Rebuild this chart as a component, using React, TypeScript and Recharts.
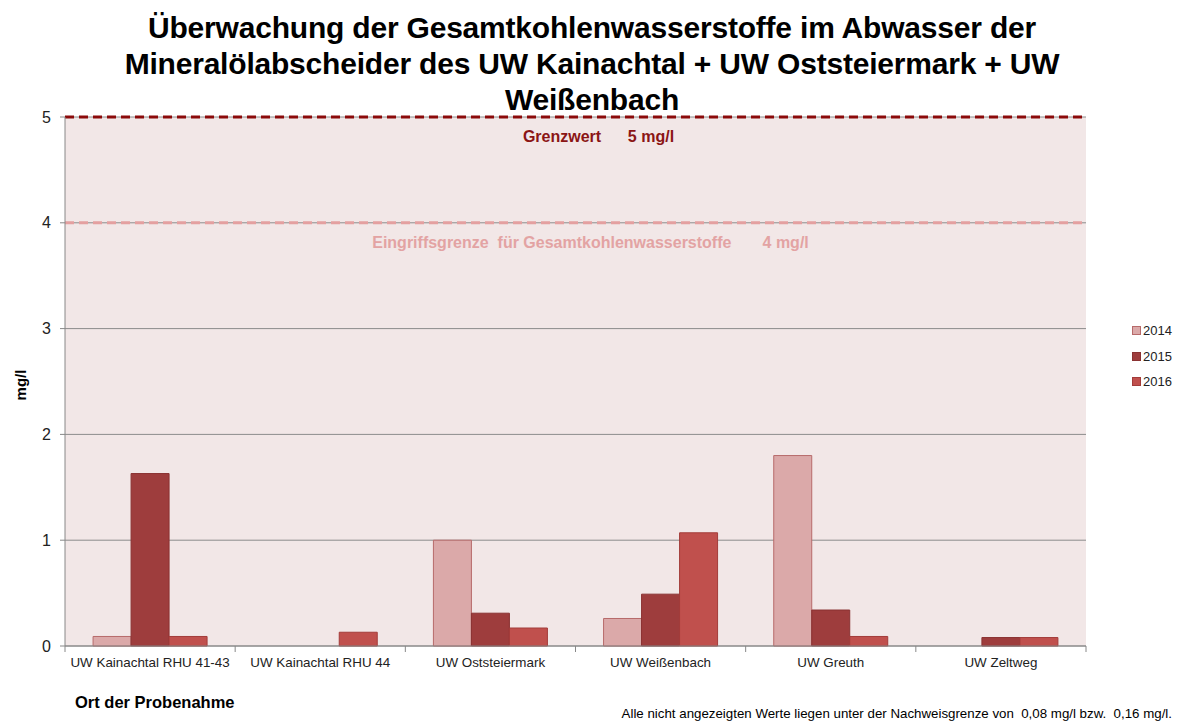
import React from "react";
import { BarChart, Bar, XAxis, YAxis, CartesianGrid, ReferenceLine } from "recharts";

const sites = [
  "UW Kainachtal RHU 41-43",
  "UW Kainachtal RHU 44",
  "UW Oststeiermark",
  "UW Weißenbach",
  "UW Greuth",
  "UW Zeltweg",
];
const values2014 = [0.09, null, 1.0, 0.26, 1.8, null];
const values2015 = [1.63, null, 0.31, 0.49, 0.34, 0.08];
const values2016 = [0.09, 0.13, 0.17, 1.07, 0.09, 0.08];
const yTicks = [0, 1, 2, 3, 4, 5];
const grenzwert = 5;
const eingriffsgrenze = 4;

const series = [
  { key: "y2014", name: "2014", fill: "#DBA9A9", stroke: "#B76A6A" },
  { key: "y2015", name: "2015", fill: "#9E3D3D", stroke: "#8A3232" },
  { key: "y2016", name: "2016", fill: "#C0504D", stroke: "#A33C3A" },
];

const data = sites.map((site, i) => ({
  site,
  y2014: values2014[i],
  y2015: values2015[i],
  y2016: values2016[i],
}));

const font = "'Liberation Sans', Arial, sans-serif";

const SiteTick = (props: any) => {
  const { x, y, payload, index, visibleTicksCount } = props;
  const half = payload && payload.offset ? payload.offset : 85;
  return (
    <g>
      <line x1={x - half} y1={y - 8} x2={x - half} y2={y - 2} stroke="#888" />
      {index === visibleTicksCount - 1 && (
        <line x1={x + half} y1={y - 8} x2={x + half} y2={y - 2} stroke="#888" />
      )}
      <text x={x} y={y + 13} textAnchor="middle" fontSize={13.4} fill="#222" fontFamily={font}>
        {payload.value}
      </text>
    </g>
  );
};

const lineLabel = (text: string, color: string, dx: number) => (props: any) => {
  const vb = props.viewBox || { x: 0, y: 0, width: 0 };
  return (
    <text
      x={vb.x + vb.width / 2 + dx}
      y={vb.y + 25}
      textAnchor="middle"
      fontSize={16}
      fontWeight="bold"
      fill={color}
      fontFamily={font}
      style={{ whiteSpace: "pre" }}
    >
      {text}
    </text>
  );
};

export default function App() {
  return (
    <div style={{ position: "absolute", left: 0, top: 0, width: 1178, height: 722, background: "#fff", fontFamily: font }}>
      <div
        style={{
          position: "absolute",
          left: 92,
          top: 10,
          width: 1000,
          textAlign: "center",
          fontSize: 30,
          fontWeight: "bold",
          lineHeight: "36px",
          color: "#000",
          letterSpacing: -0.2,
        }}
      >
        Überwachung der Gesamtkohlenwasserstoffe im Abwasser der
        <br />
        Mineralölabscheider des UW Kainachtal + UW Oststeiermark + UW
        <br />
        Weißenbach
      </div>
      <BarChart
        width={1178}
        height={722}
        data={data}
        margin={{ top: 117, right: 92, bottom: 46, left: 0 }}
        barCategoryGap="16.5%"
        barGap={0}
      >
        <CartesianGrid vertical={false} stroke="#8c8c8c" fill="#F2E7E7" fillOpacity={1} />
        <XAxis
          dataKey="site"
          height={30}
          stroke="#888"
          tickLine={false}
          tick={<SiteTick />}
          interval={0}
        />
        <YAxis
          width={65}
          domain={[0, 5]}
          ticks={yTicks}
          stroke="#888"
          tickSize={5}
          tickMargin={9}
          tick={{ fontSize: 16, fill: "#222", fontFamily: font }}
        />
        <ReferenceLine
          y={eingriffsgrenze}
          stroke="#E4A0A0"
          strokeWidth={3}
          strokeDasharray="9 5"
          label={lineLabel("Eingriffsgrenze  für Gesamtkohlenwasserstoffe       4 mg/l", "#E3A3A3", 15)}
        />
        <ReferenceLine
          y={grenzwert}
          stroke="#8B0A0A"
          strokeWidth={3}
          strokeDasharray="9 5"
          label={lineLabel("Grenzwert      5 mg/l", "#8B1515", 23)}
        />
        {series.map((s) => (
          <Bar
            key={s.key}
            dataKey={s.key}
            name={s.name}
            fill={s.fill}
            stroke={s.stroke}
            strokeWidth={1}
            isAnimationActive={false}
          />
        ))}
      </BarChart>
      <div
        style={{
          position: "absolute",
          left: 10,
          top: 385,
          transform: "translate(-50%, -50%) rotate(-90deg)",
          transformOrigin: "center",
          fontSize: 15,
          fontWeight: "bold",
          marginLeft: 10,
        }}
      >
        mg/l
      </div>
      <div style={{ position: "absolute", left: 1132, top: 318 }}>
        {series.map((s) => (
          <div key={s.key} style={{ display: "flex", alignItems: "center", height: 25.5, fontSize: 13, color: "#222" }}>
            <span
              style={{
                display: "inline-block",
                width: 7,
                height: 7,
                background: s.fill,
                border: `1px solid ${s.stroke}`,
                marginRight: 2,
              }}
            />
            {s.name}
          </div>
        ))}
      </div>
      <div style={{ position: "absolute", left: 75, top: 693, fontSize: 16.5, fontWeight: "bold", color: "#000" }}>
        Ort der Probenahme
      </div>
      <div style={{ position: "absolute", right: 6, top: 706, fontSize: 13.3, color: "#000", whiteSpace: "pre" }}>
        Alle nicht angezeigten Werte liegen unter der Nachweisgrenze von  0,08 mg/l bzw.  0,16 mg/l.
      </div>
    </div>
  );
}
